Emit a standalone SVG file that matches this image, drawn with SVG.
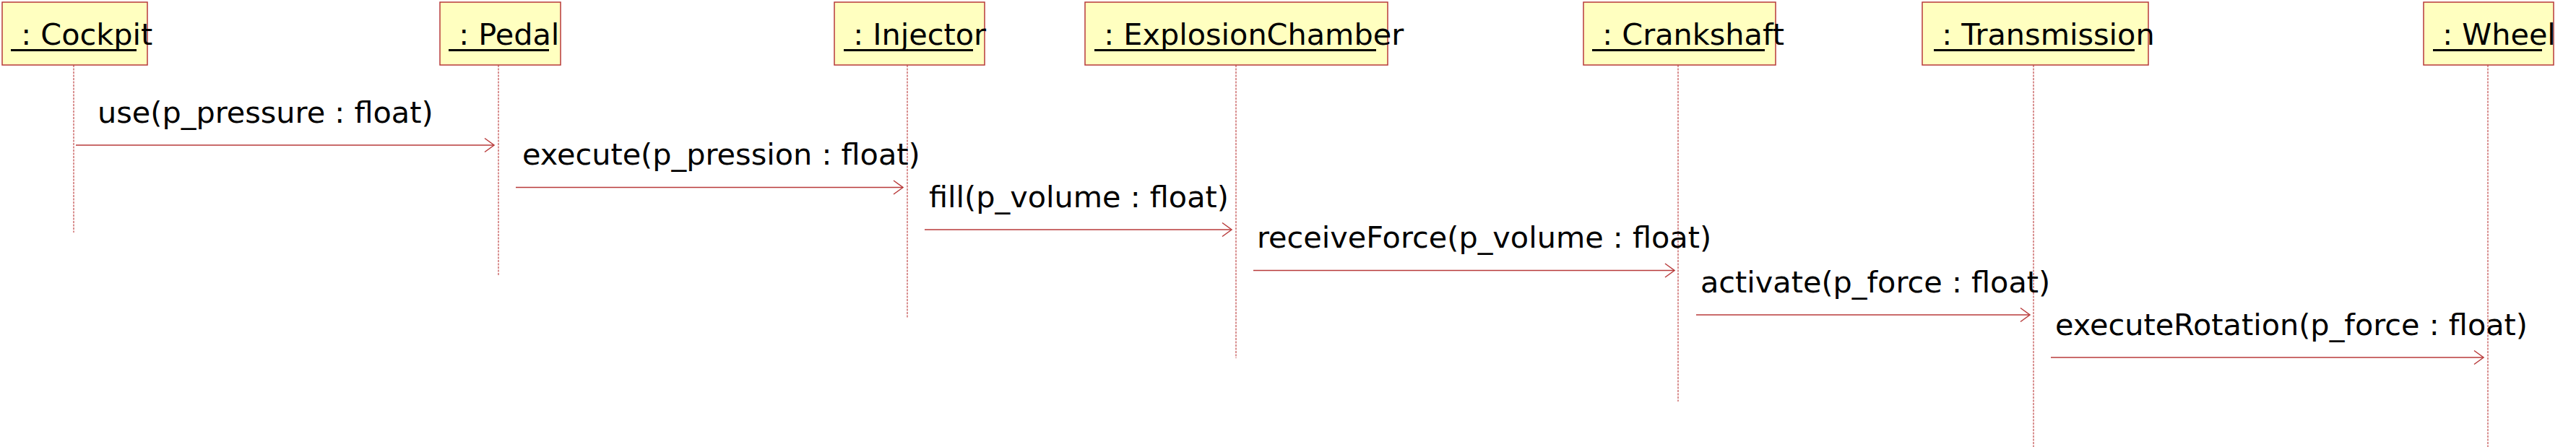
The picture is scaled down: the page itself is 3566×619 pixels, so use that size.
<svg xmlns="http://www.w3.org/2000/svg" width="3566" height="619" viewBox="0 0 3566 619">
<style>
.box{fill:#ffffc0;stroke:#b83a3a;stroke-width:1.5}
.nm{font-family:"DejaVu Sans",sans-serif;font-size:41.4px;fill:#000;white-space:pre}
.ul{stroke:#000;stroke-width:3}
.life{stroke:#c04848;stroke-width:1.2;stroke-dasharray:3 1.5;fill:none}
.msg{stroke:#b83a3a;stroke-width:1.5;fill:none;marker-end:url(#open)}
.lbl{font-family:"DejaVu Sans",sans-serif;font-size:41.4px;fill:#000}
</style>
<defs>
<marker id="open" viewBox="-15 -11 17 22" refX="0" refY="0" markerWidth="17" markerHeight="22" orient="auto" markerUnits="userSpaceOnUse">
<path d="M-13,-9.5 L0,0 L-13,9.5" fill="none" stroke="#b83a3a" stroke-width="1.5"/>
</marker>
</defs>
<g id="lifelines">
<line class="life" x1="102" y1="90" x2="102" y2="322"/>
<line class="life" x1="690" y1="90" x2="690" y2="381"/>
<line class="life" x1="1256" y1="90" x2="1256" y2="440"/>
<line class="life" x1="1711" y1="90" x2="1711" y2="496"/>
<line class="life" x1="2323" y1="90" x2="2323" y2="556"/>
<line class="life" x1="2815" y1="90" x2="2815" y2="619"/>
<line class="life" x1="3444" y1="90" x2="3444" y2="619"/>
</g>
<g id="node-cockpit">
<rect class="box" x="3" y="3" width="201" height="87"/>
<text class="nm" xml:space="preserve" x="16" y="62"> : Cockpit</text>
<line class="ul" x1="15" y1="69.5" x2="189" y2="69.5"/>
</g>
<g id="node-pedal">
<rect class="box" x="609" y="3" width="167" height="87"/>
<text class="nm" xml:space="preserve" x="622" y="62"> : Pedal</text>
<line class="ul" x1="621" y1="69.5" x2="760" y2="69.5"/>
</g>
<g id="node-injector">
<rect class="box" x="1155" y="3" width="208" height="87"/>
<text class="nm" xml:space="preserve" x="1168" y="62"> : Injector</text>
<line class="ul" x1="1168" y1="69.5" x2="1347" y2="69.5"/>
</g>
<g id="node-explosionchamber">
<rect class="box" x="1502" y="3" width="419" height="87"/>
<text class="nm" xml:space="preserve" x="1515" y="62"> : ExplosionChamber</text>
<line class="ul" x1="1515" y1="69.5" x2="1905" y2="69.5"/>
</g>
<g id="node-crankshaft">
<rect class="box" x="2192" y="3" width="266" height="87"/>
<text class="nm" xml:space="preserve" x="2205" y="62"> : Crankshaft</text>
<line class="ul" x1="2204" y1="69.5" x2="2443" y2="69.5"/>
</g>
<g id="node-transmission">
<rect class="box" x="2661" y="3" width="313" height="87"/>
<text class="nm" xml:space="preserve" x="2675" y="62"> : Transmission</text>
<line class="ul" x1="2677" y1="69.5" x2="2955" y2="69.5"/>
</g>
<g id="node-wheel">
<rect class="box" x="3355" y="3" width="180" height="87"/>
<text class="nm" xml:space="preserve" x="3368" y="62"> : Wheel</text>
<line class="ul" x1="3368" y1="69.5" x2="3519" y2="69.5"/>
</g>
<g id="connectors">
<line class="msg" x1="105" y1="201" x2="684" y2="201"/>
<text class="lbl" x="135" y="170">use(p_pressure : float)</text>
<line class="msg" x1="714" y1="259.5" x2="1250" y2="259.5"/>
<text class="lbl" x="723" y="228">execute(p_pression : float)</text>
<line class="msg" x1="1280" y1="318" x2="1705" y2="318"/>
<text class="lbl" x="1286" y="287">fill(p_volume : float)</text>
<line class="msg" x1="1735" y1="374.5" x2="2318" y2="374.5"/>
<text class="lbl" x="1740" y="343">receiveForce(p_volume : float)</text>
<line class="msg" x1="2348" y1="436" x2="2810" y2="436"/>
<text class="lbl" x="2354" y="405">activate(p_force : float)</text>
<line class="msg" x1="2839" y1="495" x2="3438" y2="495"/>
<text class="lbl" x="2845" y="464">executeRotation(p_force : float)</text>
</g>
</svg>
